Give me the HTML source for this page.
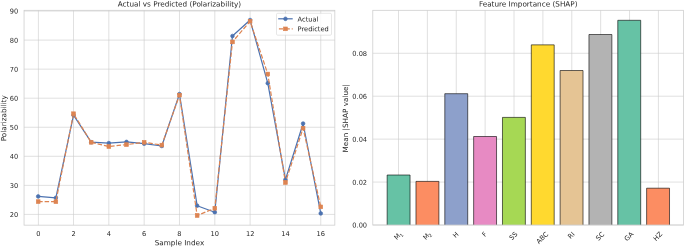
<!DOCTYPE html>
<html><head><meta charset="utf-8"><title>Model evaluation</title>
<style>
html,body{margin:0;padding:0;background:#fff;}
svg{display:block;}
svg text{text-rendering:geometricPrecision;font-family:"DejaVu Sans","Liberation Sans",sans-serif;fill:#262626;}
</style></head><body>
<svg width="685" height="248" viewBox="0 0 685 248">
<rect width="685" height="248" fill="#ffffff"/>
<line x1="38.40" y1="10.3" x2="38.40" y2="225.15" stroke="#cccccc" stroke-width="0.605"/>
<line x1="73.52" y1="10.3" x2="73.52" y2="225.15" stroke="#cccccc" stroke-width="0.605"/>
<line x1="108.84" y1="10.3" x2="108.84" y2="225.15" stroke="#cccccc" stroke-width="0.605"/>
<line x1="144.16" y1="10.3" x2="144.16" y2="225.15" stroke="#cccccc" stroke-width="0.605"/>
<line x1="179.48" y1="10.3" x2="179.48" y2="225.15" stroke="#cccccc" stroke-width="0.605"/>
<line x1="214.80" y1="10.3" x2="214.80" y2="225.15" stroke="#cccccc" stroke-width="0.605"/>
<line x1="250.12" y1="10.3" x2="250.12" y2="225.15" stroke="#cccccc" stroke-width="0.605"/>
<line x1="285.44" y1="10.3" x2="285.44" y2="225.15" stroke="#cccccc" stroke-width="0.605"/>
<line x1="320.76" y1="10.3" x2="320.76" y2="225.15" stroke="#cccccc" stroke-width="0.605"/>
<line x1="24.05" y1="214.40" x2="334.85" y2="214.40" stroke="#cccccc" stroke-width="0.605"/>
<line x1="24.05" y1="185.35" x2="334.85" y2="185.35" stroke="#cccccc" stroke-width="0.605"/>
<line x1="24.05" y1="156.30" x2="334.85" y2="156.30" stroke="#cccccc" stroke-width="0.605"/>
<line x1="24.05" y1="127.25" x2="334.85" y2="127.25" stroke="#cccccc" stroke-width="0.605"/>
<line x1="24.05" y1="98.20" x2="334.85" y2="98.20" stroke="#cccccc" stroke-width="0.605"/>
<line x1="24.05" y1="69.15" x2="334.85" y2="69.15" stroke="#cccccc" stroke-width="0.605"/>
<line x1="24.05" y1="40.10" x2="334.85" y2="40.10" stroke="#cccccc" stroke-width="0.605"/>
<line x1="24.05" y1="11.05" x2="334.85" y2="11.05" stroke="#cccccc" stroke-width="0.605"/>
<polyline points="38.20,196.40 55.86,197.80 73.52,115.20 91.18,142.20 108.84,143.10 126.50,141.90 144.16,143.70 161.82,146.00 179.48,94.05 197.14,205.70 214.80,212.20 232.46,36.00 250.12,20.05 267.78,83.20 285.44,179.60 303.10,123.50 320.76,213.40" fill="none" stroke="#4c72b0" stroke-width="1.21" stroke-linejoin="round" stroke-linecap="butt"/>
<circle cx="38.20" cy="196.40" r="1.850" fill="#4c72b0" stroke="#4c72b0" stroke-width="0.65"/>
<circle cx="55.86" cy="197.80" r="1.850" fill="#4c72b0" stroke="#4c72b0" stroke-width="0.65"/>
<circle cx="73.52" cy="115.20" r="1.850" fill="#4c72b0" stroke="#4c72b0" stroke-width="0.65"/>
<circle cx="91.18" cy="142.20" r="1.850" fill="#4c72b0" stroke="#4c72b0" stroke-width="0.65"/>
<circle cx="108.84" cy="143.10" r="1.850" fill="#4c72b0" stroke="#4c72b0" stroke-width="0.65"/>
<circle cx="126.50" cy="141.90" r="1.850" fill="#4c72b0" stroke="#4c72b0" stroke-width="0.65"/>
<circle cx="144.16" cy="143.70" r="1.850" fill="#4c72b0" stroke="#4c72b0" stroke-width="0.65"/>
<circle cx="161.82" cy="146.00" r="1.850" fill="#4c72b0" stroke="#4c72b0" stroke-width="0.65"/>
<circle cx="179.48" cy="94.05" r="1.850" fill="#4c72b0" stroke="#4c72b0" stroke-width="0.65"/>
<circle cx="197.14" cy="205.70" r="1.850" fill="#4c72b0" stroke="#4c72b0" stroke-width="0.65"/>
<circle cx="214.80" cy="212.20" r="1.850" fill="#4c72b0" stroke="#4c72b0" stroke-width="0.65"/>
<circle cx="232.46" cy="36.00" r="1.850" fill="#4c72b0" stroke="#4c72b0" stroke-width="0.65"/>
<circle cx="250.12" cy="20.05" r="1.850" fill="#4c72b0" stroke="#4c72b0" stroke-width="0.65"/>
<circle cx="267.78" cy="83.20" r="1.850" fill="#4c72b0" stroke="#4c72b0" stroke-width="0.65"/>
<circle cx="285.44" cy="179.60" r="1.850" fill="#4c72b0" stroke="#4c72b0" stroke-width="0.65"/>
<circle cx="303.10" cy="123.50" r="1.850" fill="#4c72b0" stroke="#4c72b0" stroke-width="0.65"/>
<circle cx="320.76" cy="213.40" r="1.850" fill="#4c72b0" stroke="#4c72b0" stroke-width="0.65"/>
<polyline points="38.20,201.60 55.86,201.70 73.52,113.70 91.18,142.30 108.84,146.50 126.50,144.60 144.16,142.30 161.82,145.10 179.48,95.15 197.14,215.50 214.80,208.30 232.46,41.90 250.12,21.25 267.78,74.00 285.44,182.50 303.10,128.20 320.76,206.85" fill="none" stroke="#dd8452" stroke-width="1.21" stroke-linejoin="round" stroke-dasharray="4.48 1.94"/>
<rect x="36.35" y="199.75" width="3.7" height="3.7" fill="#dd8452" stroke="#dd8452" stroke-width="0.65" stroke-linejoin="miter"/>
<rect x="54.01" y="199.85" width="3.7" height="3.7" fill="#dd8452" stroke="#dd8452" stroke-width="0.65" stroke-linejoin="miter"/>
<rect x="71.67" y="111.85" width="3.7" height="3.7" fill="#dd8452" stroke="#dd8452" stroke-width="0.65" stroke-linejoin="miter"/>
<rect x="89.33" y="140.45" width="3.7" height="3.7" fill="#dd8452" stroke="#dd8452" stroke-width="0.65" stroke-linejoin="miter"/>
<rect x="106.99" y="144.65" width="3.7" height="3.7" fill="#dd8452" stroke="#dd8452" stroke-width="0.65" stroke-linejoin="miter"/>
<rect x="124.65" y="142.75" width="3.7" height="3.7" fill="#dd8452" stroke="#dd8452" stroke-width="0.65" stroke-linejoin="miter"/>
<rect x="142.31" y="140.45" width="3.7" height="3.7" fill="#dd8452" stroke="#dd8452" stroke-width="0.65" stroke-linejoin="miter"/>
<rect x="159.97" y="143.25" width="3.7" height="3.7" fill="#dd8452" stroke="#dd8452" stroke-width="0.65" stroke-linejoin="miter"/>
<rect x="177.63" y="93.30" width="3.7" height="3.7" fill="#dd8452" stroke="#dd8452" stroke-width="0.65" stroke-linejoin="miter"/>
<rect x="195.29" y="213.65" width="3.7" height="3.7" fill="#dd8452" stroke="#dd8452" stroke-width="0.65" stroke-linejoin="miter"/>
<rect x="212.95" y="206.45" width="3.7" height="3.7" fill="#dd8452" stroke="#dd8452" stroke-width="0.65" stroke-linejoin="miter"/>
<rect x="230.61" y="40.05" width="3.7" height="3.7" fill="#dd8452" stroke="#dd8452" stroke-width="0.65" stroke-linejoin="miter"/>
<rect x="248.27" y="19.40" width="3.7" height="3.7" fill="#dd8452" stroke="#dd8452" stroke-width="0.65" stroke-linejoin="miter"/>
<rect x="265.93" y="72.15" width="3.7" height="3.7" fill="#dd8452" stroke="#dd8452" stroke-width="0.65" stroke-linejoin="miter"/>
<rect x="283.59" y="180.65" width="3.7" height="3.7" fill="#dd8452" stroke="#dd8452" stroke-width="0.65" stroke-linejoin="miter"/>
<rect x="301.25" y="126.35" width="3.7" height="3.7" fill="#dd8452" stroke="#dd8452" stroke-width="0.65" stroke-linejoin="miter"/>
<rect x="318.91" y="205.00" width="3.7" height="3.7" fill="#dd8452" stroke="#dd8452" stroke-width="0.65" stroke-linejoin="miter"/>
<rect x="24.05" y="10.3" width="310.80" height="214.85" fill="none" stroke="#cccccc" stroke-width="0.76"/>
<text transform="matrix(1 0.0005 0 1 38.40 235.9)" font-size="6.65" text-anchor="middle">0</text>
<text transform="matrix(1 0.0005 0 1 73.52 235.9)" font-size="6.65" text-anchor="middle">2</text>
<text transform="matrix(1 0.0005 0 1 108.84 235.9)" font-size="6.65" text-anchor="middle">4</text>
<text transform="matrix(1 0.0005 0 1 144.16 235.9)" font-size="6.65" text-anchor="middle">6</text>
<text transform="matrix(1 0.0005 0 1 179.48 235.9)" font-size="6.65" text-anchor="middle">8</text>
<text transform="matrix(1 0.0005 0 1 214.80 235.9)" font-size="6.65" text-anchor="middle">10</text>
<text transform="matrix(1 0.0005 0 1 250.12 235.9)" font-size="6.65" text-anchor="middle">12</text>
<text transform="matrix(1 0.0005 0 1 285.44 235.9)" font-size="6.65" text-anchor="middle">14</text>
<text transform="matrix(1 0.0005 0 1 320.76 235.9)" font-size="6.65" text-anchor="middle">16</text>
<text transform="matrix(1 0.0005 0 1 18.3 216.95)" font-size="6.65" text-anchor="end">20</text>
<text transform="matrix(1 0.0005 0 1 18.3 187.90)" font-size="6.65" text-anchor="end">30</text>
<text transform="matrix(1 0.0005 0 1 18.3 158.85)" font-size="6.65" text-anchor="end">40</text>
<text transform="matrix(1 0.0005 0 1 18.3 129.80)" font-size="6.65" text-anchor="end">50</text>
<text transform="matrix(1 0.0005 0 1 18.3 100.75)" font-size="6.65" text-anchor="end">60</text>
<text transform="matrix(1 0.0005 0 1 18.3 71.70)" font-size="6.65" text-anchor="end">70</text>
<text transform="matrix(1 0.0005 0 1 18.3 42.65)" font-size="6.65" text-anchor="end">80</text>
<text transform="matrix(1 0.0005 0 1 18.3 13.60)" font-size="6.65" text-anchor="end">90</text>
<text transform="matrix(1 0.0005 0 1 179.45 245.3)" font-size="7.26" text-anchor="middle">Sample Index</text>
<text transform="translate(6.3,118.3) rotate(-90.03)" font-size="7.26" text-anchor="middle">Polarizability</text>
<text transform="matrix(1 0.0005 0 1 179.45 6.6)" font-size="7.26" text-anchor="middle">Actual vs Predicted (Polarizability)</text>
<rect x="276.5" y="13.3" width="55.0" height="21.9" rx="1.2" ry="1.2" fill="#ffffff" fill-opacity="0.8" stroke="#cccccc" stroke-opacity="0.8" stroke-width="0.605"/>
<line x1="278.2" y1="18.8" x2="292.7" y2="18.8" stroke="#4c72b0" stroke-width="1.21"/>
<circle cx="285.45" cy="18.8" r="1.850" fill="#4c72b0" stroke="#4c72b0" stroke-width="0.65"/>
<line x1="278.9" y1="28.85" x2="292.7" y2="28.85" stroke="#dd8452" stroke-width="1.21" stroke-dasharray="4.48 1.94"/>
<rect x="283.60" y="27.00" width="3.7" height="3.7" fill="#dd8452" stroke="#dd8452" stroke-width="0.65"/>
<text transform="matrix(1 0.0005 0 1 297.6 21.6)" font-size="6.65">Actual</text>
<text transform="matrix(1 0.0005 0 1 297.6 31.3)" font-size="6.65">Predicted</text>
<line x1="398.50" y1="10.3" x2="398.50" y2="225.0" stroke="#cccccc" stroke-width="0.605"/>
<line x1="427.38" y1="10.3" x2="427.38" y2="225.0" stroke="#cccccc" stroke-width="0.605"/>
<line x1="456.26" y1="10.3" x2="456.26" y2="225.0" stroke="#cccccc" stroke-width="0.605"/>
<line x1="485.14" y1="10.3" x2="485.14" y2="225.0" stroke="#cccccc" stroke-width="0.605"/>
<line x1="514.02" y1="10.3" x2="514.02" y2="225.0" stroke="#cccccc" stroke-width="0.605"/>
<line x1="542.90" y1="10.3" x2="542.90" y2="225.0" stroke="#cccccc" stroke-width="0.605"/>
<line x1="571.78" y1="10.3" x2="571.78" y2="225.0" stroke="#cccccc" stroke-width="0.605"/>
<line x1="600.66" y1="10.3" x2="600.66" y2="225.0" stroke="#cccccc" stroke-width="0.605"/>
<line x1="629.54" y1="10.3" x2="629.54" y2="225.0" stroke="#cccccc" stroke-width="0.605"/>
<line x1="658.42" y1="10.3" x2="658.42" y2="225.0" stroke="#cccccc" stroke-width="0.605"/>
<line x1="372.8" y1="225.00" x2="683.6" y2="225.00" stroke="#cccccc" stroke-width="0.605"/>
<line x1="372.8" y1="182.07" x2="683.6" y2="182.07" stroke="#cccccc" stroke-width="0.605"/>
<line x1="372.8" y1="139.14" x2="683.6" y2="139.14" stroke="#cccccc" stroke-width="0.605"/>
<line x1="372.8" y1="96.21" x2="683.6" y2="96.21" stroke="#cccccc" stroke-width="0.605"/>
<line x1="372.8" y1="53.28" x2="683.6" y2="53.28" stroke="#cccccc" stroke-width="0.605"/>
<rect x="387.15" y="175.00" width="22.9" height="50.00" fill="#66c2a5"/>
<path d="M387.15 225.0 V175.00 H410.05 V225.0" fill="none" stroke="#000000" stroke-width="0.6" stroke-linejoin="miter"/>
<rect x="415.98" y="181.40" width="22.9" height="43.60" fill="#fc8d62"/>
<path d="M415.98 225.0 V181.40 H438.88 V225.0" fill="none" stroke="#000000" stroke-width="0.6" stroke-linejoin="miter"/>
<rect x="444.81" y="93.70" width="22.9" height="131.30" fill="#8da0cb"/>
<path d="M444.81 225.0 V93.70 H467.71 V225.0" fill="none" stroke="#000000" stroke-width="0.6" stroke-linejoin="miter"/>
<rect x="473.64" y="136.50" width="22.9" height="88.50" fill="#e78ac3"/>
<path d="M473.64 225.0 V136.50 H496.54 V225.0" fill="none" stroke="#000000" stroke-width="0.6" stroke-linejoin="miter"/>
<rect x="502.47" y="117.40" width="22.9" height="107.60" fill="#a6d854"/>
<path d="M502.47 225.0 V117.40 H525.37 V225.0" fill="none" stroke="#000000" stroke-width="0.6" stroke-linejoin="miter"/>
<rect x="531.30" y="44.85" width="22.9" height="180.15" fill="#ffd92f"/>
<path d="M531.30 225.0 V44.85 H554.20 V225.0" fill="none" stroke="#000000" stroke-width="0.6" stroke-linejoin="miter"/>
<rect x="560.13" y="70.50" width="22.9" height="154.50" fill="#e5c494"/>
<path d="M560.13 225.0 V70.50 H583.03 V225.0" fill="none" stroke="#000000" stroke-width="0.6" stroke-linejoin="miter"/>
<rect x="588.96" y="34.50" width="22.9" height="190.50" fill="#b3b3b3"/>
<path d="M588.96 225.0 V34.50 H611.86 V225.0" fill="none" stroke="#000000" stroke-width="0.6" stroke-linejoin="miter"/>
<rect x="617.79" y="20.30" width="22.9" height="204.70" fill="#66c2a5"/>
<path d="M617.79 225.0 V20.30 H640.69 V225.0" fill="none" stroke="#000000" stroke-width="0.6" stroke-linejoin="miter"/>
<rect x="646.62" y="188.20" width="22.9" height="36.80" fill="#fc8d62"/>
<path d="M646.62 225.0 V188.20 H669.52 V225.0" fill="none" stroke="#000000" stroke-width="0.6" stroke-linejoin="miter"/>
<rect x="372.8" y="10.3" width="310.80" height="214.70" fill="none" stroke="#cccccc" stroke-width="0.76"/>
<text transform="matrix(1 0.0005 0 1 367.1 227.60)" font-size="6.65" text-anchor="end">0.00</text>
<text transform="matrix(1 0.0005 0 1 367.1 184.67)" font-size="6.65" text-anchor="end">0.02</text>
<text transform="matrix(1 0.0005 0 1 367.1 141.74)" font-size="6.65" text-anchor="end">0.04</text>
<text transform="matrix(1 0.0005 0 1 367.1 98.81)" font-size="6.65" text-anchor="end">0.06</text>
<text transform="matrix(1 0.0005 0 1 367.1 55.88)" font-size="6.65" text-anchor="end">0.08</text>
<text transform="matrix(1 0.0005 0 1 528.20 6.6)" font-size="7.26" text-anchor="middle">Feature Importance (SHAP)</text>
<text transform="translate(348.1,118.3) rotate(-90.03)" font-size="7.26" text-anchor="middle">Mean |SHAP value|</text>
<text transform="translate(396.84,240.18) rotate(-45)" font-size="6.65">M<tspan font-size="4.66" dx="-0.4" dy="1.5">1</tspan></text>
<text transform="translate(425.72,240.18) rotate(-45)" font-size="6.65">M<tspan font-size="4.66" dx="-0.4" dy="1.5">2</tspan></text>
<text transform="translate(455.51,238.16) rotate(-45)" font-size="6.65">H</text>
<text transform="translate(484.80,237.33) rotate(-45)" font-size="6.65">F</text>
<text transform="translate(512.05,240.60) rotate(-45)" font-size="6.65">SS</text>
<text transform="translate(539.09,244.27) rotate(-45)" font-size="6.65">ABC</text>
<text transform="translate(570.47,239.28) rotate(-45)" font-size="6.65">RI</text>
<text transform="translate(598.54,240.90) rotate(-45)" font-size="6.65">SC</text>
<text transform="translate(627.12,241.49) rotate(-45)" font-size="6.65">GA</text>
<text transform="translate(656.06,241.39) rotate(-45)" font-size="6.65">HZ</text>
</svg>
</body></html>
